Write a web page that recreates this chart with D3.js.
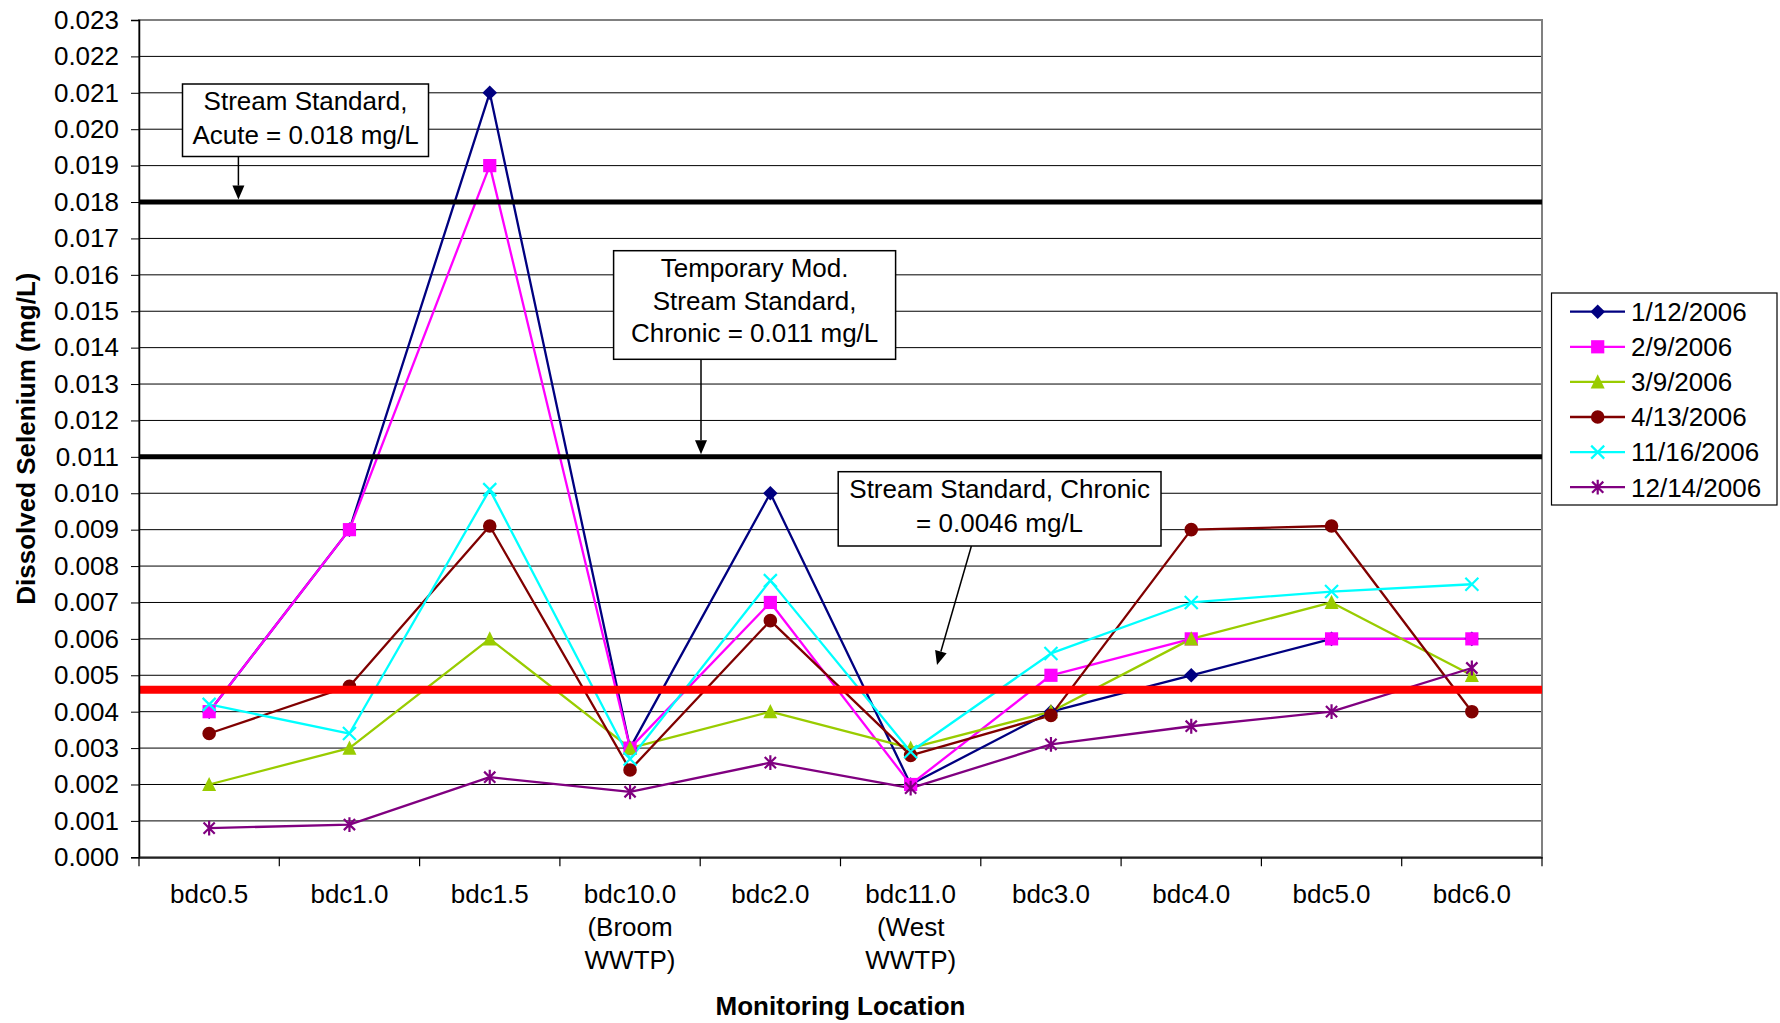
<!DOCTYPE html>
<html>
<head>
<meta charset="utf-8">
<script src="https://cdn.jsdelivr.net/npm/d3@7"></script>
<style>
  html, body { margin: 0; padding: 0; background: #fff; }
  svg { display: block; }
  text { font-family: "Liberation Sans", Arial, sans-serif; fill: #000; }
</style>
</head>
<body>
<svg id="chart" width="1780" height="1023"></svg>
<script>
// Monitoring locations (x categories); "\n" marks a line break in the label
const categories = [
  "bdc0.5", "bdc1.0", "bdc1.5", "bdc10.0\n(Broom\nWWTP)", "bdc2.0",
  "bdc11.0\n(West\nWWTP)", "bdc3.0", "bdc4.0", "bdc5.0", "bdc6.0"
];

// Sampling dates (series names)
const seriesNames = ["1/12/2006", "2/9/2006", "3/9/2006", "4/13/2006", "11/16/2006", "12/14/2006"];

// Dissolved selenium, mg/L, one value per location
const jan12 = [0.0040, 0.0090, 0.0210, 0.0030, 0.0100, 0.0020, 0.0040, 0.0050, 0.0060, 0.0060];
const feb9  = [0.0040, 0.0090, 0.0190, 0.0030, 0.0070, 0.0020, 0.0050, 0.0060, 0.0060, 0.0060];
const mar9  = [0.0020, 0.0030, 0.0060, 0.0030, 0.0040, 0.0030, 0.0040, 0.0060, 0.0070, 0.0050];
const apr13 = [0.0034, 0.0047, 0.0091, 0.0024, 0.0065, 0.0028, 0.0039, 0.0090, 0.0091, 0.0040];
const nov16 = [0.0042, 0.0034, 0.0101, 0.0027, 0.0076, 0.0029, 0.0056, 0.0070, 0.0073, 0.0075];
const dec14 = [0.0008, 0.0009, 0.0022, 0.0018, 0.0026, 0.0019, 0.0031, 0.0036, 0.0040, 0.0052];

// Y axis tick values
const yTicks = [0.000, 0.001, 0.002, 0.003, 0.004, 0.005, 0.006, 0.007, 0.008, 0.009, 0.010, 0.011,
                0.012, 0.013, 0.014, 0.015, 0.016, 0.017, 0.018, 0.019, 0.020, 0.021, 0.022, 0.023];

// Regulatory standards (mg/L) and their callout texts
const standardValues = [0.018, 0.011, 0.0046];
const standardLabels = [
  ["Stream Standard,", "Acute = 0.018 mg/L"],
  ["Temporary Mod.", "Stream Standard,", "Chronic = 0.011 mg/L"],
  ["Stream Standard, Chronic", "= 0.0046 mg/L"]
];

const axisTitleX = "Monitoring Location";
const axisTitleY = "Dissolved Selenium (mg/L)";

// ---------------------------------------------------------------------------
const seriesValues = [jan12, feb9, mar9, apr13, nov16, dec14];
const colors = ["#000080", "#FF00FF", "#99CC00", "#800000", "#00FFFF", "#800080"];
const shapes = ["diamond", "square", "triangle", "circle", "x", "star"];

const FONT = 26;
const svg = d3.select("#chart");

const plot = { left: 139, right: 1542, top: 20, bottom: 857.3 };

const x = d3.scaleBand().domain(categories).range([plot.left, plot.right]);
const y = d3.scaleLinear().domain([0, 0.023]).range([plot.bottom, plot.top]);
const cx = d => x(d) + x.bandwidth() / 2;

// marker path generator
function markerPath(shape) {
  switch (shape) {
    case "diamond": return "M0,-7.3L7.3,0L0,7.3L-7.3,0Z";
    case "square": return "M-6.6,-6.6H6.6V6.6H-6.6Z";
    case "triangle": return "M0,-7.6L7,6.6L-7,6.6Z";
    case "circle": return d3.symbol(d3.symbolCircle, Math.PI * 6.8 * 6.8)();
    case "x": return "M-6.5,-6.5L6.5,6.5M-6.5,6.5L6.5,-6.5";
    case "star": return "M-5.6,-5.6L5.6,5.6M-5.6,5.6L5.6,-5.6M0,-7.4V7.4";
  }
}
function drawMarker(g, shape, color) {
  const stroked = shape === "x" || shape === "star";
  g.append("path")
    .attr("d", markerPath(shape))
    .attr("fill", stroked ? "none" : color)
    .attr("stroke", stroked ? color : "none")
    .attr("stroke-width", stroked ? 2.2 : 0);
}

// gridlines
svg.append("g").selectAll("line")
  .data(yTicks.filter(t => t > 0 && t < 0.023))
  .join("line")
  .attr("x1", plot.left).attr("x2", plot.right)
  .attr("y1", d => y(d)).attr("y2", d => y(d))
  .attr("stroke", "#000").attr("stroke-width", 1);

// plot area frame
svg.append("rect")
  .attr("x", plot.left).attr("y", plot.top)
  .attr("width", plot.right - plot.left).attr("height", plot.bottom - plot.top)
  .attr("fill", "none").attr("stroke", "#808080").attr("stroke-width", 2);

// series lines and markers
const line = d3.line().x((d, i) => cx(categories[i])).y(d => y(d));
seriesValues.forEach((vals, s) => {
  svg.append("path")
    .attr("d", line(vals))
    .attr("fill", "none")
    .attr("stroke", colors[s])
    .attr("stroke-width", 2.3)
    .attr("stroke-linejoin", "round");
});
seriesValues.forEach((vals, s) => {
  vals.forEach((v, i) => {
    const g = svg.append("g").attr("transform", `translate(${cx(categories[i])},${y(v)})`);
    drawMarker(g, shapes[s], colors[s]);
  });
});

// standard lines
const stdStyle = [
  { color: "#000", width: 5 },
  { color: "#000", width: 5 },
  { color: "#FF0000", width: 8 }
];
standardValues.forEach((v, i) => {
  svg.append("line")
    .attr("x1", plot.left).attr("x2", plot.right)
    .attr("y1", y(v)).attr("y2", y(v))
    .attr("stroke", stdStyle[i].color)
    .attr("stroke-width", stdStyle[i].width);
});

// axes
const yAxis = d3.axisLeft(y)
  .tickValues(yTicks)
  .tickFormat(d3.format(".3f"))
  .tickSize(8)
  .tickPadding(12);
const gy = svg.append("g").attr("transform", `translate(${plot.left},0)`).call(yAxis);
gy.select(".domain").attr("stroke", "#000").attr("stroke-width", 1.5);
gy.selectAll(".tick line").attr("stroke", "#000").attr("stroke-width", 1);
gy.selectAll(".tick text")
  .attr("font-size", FONT)
  .attr("font-family", '"Liberation Sans", Arial, sans-serif')
  .attr("fill", "#000");

const xAxis = d3.axisBottom(x).tickSize(0).tickPadding(0);
const gx = svg.append("g").attr("transform", `translate(0,${plot.bottom})`).call(xAxis);
gx.select(".domain").attr("stroke", "#222").attr("stroke-width", 2);
gx.selectAll(".tick text")
  .attr("font-size", FONT)
  .attr("font-family", '"Liberation Sans", Arial, sans-serif')
  .attr("fill", "#000")
  .attr("dy", null)
  .attr("y", null)
  .each(function (d) {
    const t = d3.select(this);
    t.text(null);
    d.split("\n").forEach((ln, k) => {
      t.append("tspan").attr("x", 0).attr("y", 45.8 + k * 33).text(ln);
    });
  });
// category boundary tick marks
const boundaries = categories.map(c => x(c)).concat([x(categories[categories.length - 1]) + x.bandwidth()]);
gx.append("g").selectAll("line")
  .data(boundaries)
  .join("line")
  .attr("x1", d => d).attr("x2", d => d)
  .attr("y1", 0).attr("y2", 9)
  .attr("stroke", "#000").attr("stroke-width", 1.2);

// axis titles
svg.append("text")
  .attr("x", (plot.left + plot.right) / 2)
  .attr("y", 1015)
  .attr("text-anchor", "middle")
  .attr("font-size", FONT)
  .attr("font-weight", "bold")
  .text(axisTitleX);
svg.append("text")
  .attr("transform", `translate(35,${(plot.top + plot.bottom) / 2}) rotate(-90)`)
  .attr("text-anchor", "middle")
  .attr("font-size", FONT)
  .attr("font-weight", "bold")
  .text(axisTitleY);

// callout boxes with arrows pointing at the standard lines
const callouts = [
  { box: [182.5, 84, 246, 72.5], lineY: [110, 143.5], arrow: [238.4, 156.5, 238.4, y(standardValues[0]) - 2.5] },
  { box: [613.6, 250.7, 282, 108.6], lineY: [277, 310.3, 342], arrow: [701, 359.3, 701, y(standardValues[1]) - 2.5] },
  { box: [838.2, 471.7, 322.8, 74.3], lineY: [498, 531.5], arrow: [971.4, 546, 937, 665] }
];
callouts.forEach((c, i) => {
  const [bx, by, bw, bh] = c.box;
  const [x1, y1, x2, y2] = c.arrow;
  // arrow shaft + head
  const ang = Math.atan2(y2 - y1, x2 - x1);
  const headLen = 14, headHalf = 6;
  const bxh = x2 - headLen * Math.cos(ang), byh = y2 - headLen * Math.sin(ang);
  svg.append("line")
    .attr("x1", x1).attr("y1", y1).attr("x2", bxh).attr("y2", byh)
    .attr("stroke", "#000").attr("stroke-width", 1.5);
  svg.append("path")
    .attr("d", `M${x2},${y2}L${bxh + headHalf * Math.sin(ang)},${byh - headHalf * Math.cos(ang)}L${bxh - headHalf * Math.sin(ang)},${byh + headHalf * Math.cos(ang)}Z`)
    .attr("fill", "#000");
  svg.append("rect")
    .attr("x", bx).attr("y", by).attr("width", bw).attr("height", bh)
    .attr("fill", "#fff").attr("stroke", "#000").attr("stroke-width", 1.5);
  standardLabels[i].forEach((t, k) => {
    svg.append("text")
      .attr("x", bx + bw / 2).attr("y", c.lineY[k])
      .attr("text-anchor", "middle")
      .attr("font-size", FONT)
      .text(t);
  });
});

// legend
const legend = svg.append("g");
legend.append("rect")
  .attr("x", 1551.5).attr("y", 293).attr("width", 225.5).attr("height", 212)
  .attr("fill", "#fff").attr("stroke", "#000").attr("stroke-width", 1.2);
seriesNames.forEach((name, s) => {
  const ly = 311.7 + s * 35.1;
  legend.append("line")
    .attr("x1", 1570).attr("x2", 1625).attr("y1", ly).attr("y2", ly)
    .attr("stroke", colors[s]).attr("stroke-width", 2.3);
  const g = legend.append("g").attr("transform", `translate(1597.7,${ly})`);
  drawMarker(g, shapes[s], colors[s]);
  legend.append("text")
    .attr("x", 1631).attr("y", ly + 9.3)
    .attr("font-size", FONT)
    .text(name);
});
</script>
</body>
</html>
